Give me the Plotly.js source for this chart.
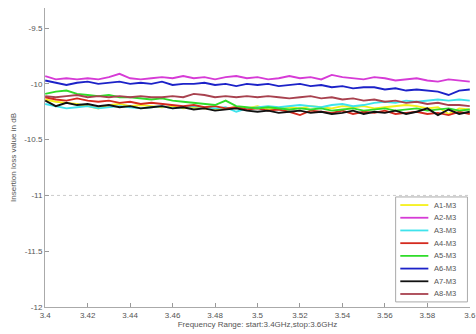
<!DOCTYPE html>
<html><head><meta charset="utf-8">
<script src="https://cdn.plot.ly/plotly-3.0.1.min.js"></script>
<style>html,body{margin:0;padding:0;background:#fff}#chart{width:476px;height:334px}</style>
</head><body><div id="chart"></div>
<script>
const freq = [3.4,3.405,3.41,3.415,3.42,3.425,3.43,3.435,3.44,3.445,3.45,3.455,3.46,3.465,3.47,3.475,3.48,3.485,3.49,3.495,3.5,3.505,3.51,3.515,3.52,3.525,3.53,3.535,3.54,3.545,3.55,3.555,3.56,3.565,3.57,3.575,3.58,3.585,3.59,3.595,3.6];
const seriesNames = ["A1-M3","A2-M3","A3-M3","A4-M3","A5-M3","A6-M3","A7-M3","A8-M3"];
const seriesColors = ["#f5f01a","#d63bd6","#3fe3ec","#d42a1e","#2fdc2a","#1c22c8","#111111","#a8424f"];
const A1 = [-10.14,-10.16,-10.17,-10.18,-10.2,-10.22,-10.19,-10.18,-10.2,-10.19,-10.2,-10.21,-10.2,-10.22,-10.21,-10.22,-10.23,-10.22,-10.21,-10.22,-10.2,-10.23,-10.22,-10.21,-10.22,-10.2,-10.21,-10.22,-10.2,-10.21,-10.2,-10.22,-10.21,-10.2,-10.19,-10.2,-10.22,-10.21,-10.27,-10.22,-10.23];
const A2 = [-9.93,-9.96,-9.95,-9.96,-9.95,-9.96,-9.94,-9.91,-9.95,-9.96,-9.95,-9.94,-9.95,-9.93,-9.95,-9.94,-9.96,-9.94,-9.93,-9.95,-9.94,-9.96,-9.95,-9.93,-9.95,-9.94,-9.96,-9.92,-9.94,-9.95,-9.96,-9.94,-9.95,-9.97,-9.96,-9.95,-9.97,-9.98,-9.96,-9.97,-9.98];
const A3 = [-10.18,-10.2,-10.22,-10.21,-10.2,-10.22,-10.21,-10.2,-10.21,-10.22,-10.21,-10.2,-10.22,-10.21,-10.2,-10.21,-10.22,-10.21,-10.25,-10.22,-10.21,-10.2,-10.21,-10.2,-10.19,-10.2,-10.21,-10.19,-10.18,-10.2,-10.19,-10.17,-10.16,-10.17,-10.15,-10.16,-10.15,-10.14,-10.15,-10.14,-10.15];
const A4 = [-10.12,-10.14,-10.15,-10.13,-10.15,-10.16,-10.15,-10.17,-10.16,-10.18,-10.17,-10.18,-10.19,-10.2,-10.19,-10.21,-10.2,-10.22,-10.21,-10.23,-10.22,-10.24,-10.23,-10.25,-10.28,-10.24,-10.25,-10.26,-10.24,-10.27,-10.25,-10.26,-10.24,-10.27,-10.26,-10.25,-10.27,-10.26,-10.28,-10.25,-10.27];
const A5 = [-10.09,-10.07,-10.06,-10.09,-10.1,-10.11,-10.1,-10.12,-10.12,-10.13,-10.14,-10.13,-10.15,-10.16,-10.17,-10.18,-10.19,-10.15,-10.2,-10.21,-10.22,-10.21,-10.22,-10.23,-10.22,-10.23,-10.22,-10.24,-10.23,-10.22,-10.24,-10.23,-10.22,-10.24,-10.23,-10.22,-10.24,-10.23,-10.22,-10.24,-10.23];
const A6 = [-9.97,-9.99,-10.01,-9.99,-9.98,-10.0,-9.99,-9.98,-10.0,-9.99,-10.0,-9.98,-10.01,-10.0,-10.0,-9.99,-10.01,-10.0,-10.02,-10.0,-10.01,-10.0,-10.02,-10.01,-10.0,-10.02,-10.01,-10.03,-10.02,-10.04,-10.03,-10.03,-10.05,-10.04,-10.06,-10.05,-10.06,-10.07,-10.1,-10.06,-10.05];
const A7 = [-10.15,-10.2,-10.17,-10.19,-10.18,-10.2,-10.19,-10.21,-10.2,-10.22,-10.21,-10.2,-10.22,-10.21,-10.23,-10.22,-10.24,-10.23,-10.22,-10.24,-10.25,-10.24,-10.26,-10.25,-10.24,-10.26,-10.25,-10.27,-10.26,-10.24,-10.27,-10.25,-10.26,-10.24,-10.27,-10.25,-10.22,-10.28,-10.23,-10.27,-10.25];
const A8 = [-10.11,-10.12,-10.11,-10.1,-10.12,-10.11,-10.12,-10.11,-10.12,-10.11,-10.12,-10.12,-10.11,-10.12,-10.09,-10.1,-10.12,-10.11,-10.12,-10.11,-10.12,-10.11,-10.12,-10.13,-10.12,-10.11,-10.13,-10.12,-10.14,-10.13,-10.15,-10.14,-10.16,-10.15,-10.17,-10.16,-10.18,-10.17,-10.19,-10.19,-10.2];
const xTicks = [3.4,3.42,3.44,3.46,3.48,3.5,3.52,3.54,3.56,3.58,3.6];
const xTickText = ["3.4","3.42","3.44","3.46","3.48","3.5","3.52","3.54","3.56","3.58","3.6"];
const yTicks = [-12,-11.5,-11,-10.5,-10,-9.5];
const yTickText = ["-12","-11.5","-11","-10.5","-10","-9.5"];

const allSeries = [A1,A2,A3,A4,A5,A6,A7,A8];
const traces = allSeries.map((ys,i)=>({
  x: freq, y: ys, type:'scatter', mode:'lines', name: seriesNames[i], showlegend:false,
  line:{color: seriesColors[i], width:1.9, shape:'linear'}
}));

// custom compact legend (MATLAB-style)
const legTop = 0.341, legStep = 0.0425;
const shapes = [
  {type:'line', xref:'paper', x0:0, x1:1, yref:'y', y0:-11, y1:-11, line:{color:'#ccc', width:1, dash:'dot'}, layer:'below'},
  {type:'rect', xref:'paper', yref:'paper', x0:0.825, x1:0.994, y0:0.017, y1:0.368, fillcolor:'#fff', line:{color:'#aaa', width:1}}
];
const annotations = [];
seriesNames.forEach((nm,i)=>{
  const yy = legTop - i*legStep;
  shapes.push({type:'line', xref:'paper', yref:'paper', x0:0.836, x1:0.902, y0:yy, y1:yy, line:{color:seriesColors[i], width:1.8}});
  annotations.push({xref:'paper', yref:'paper', x:0.91, y:yy, xanchor:'left', yanchor:'middle', text:nm, showarrow:false, font:{size:7.5, color:'#555'}});
});

const layout = {
  width:476, height:334,
  margin:{l:45, r:6, t:8, b:27},
  paper_bgcolor:'#fff', plot_bgcolor:'#fff',
  font:{family:'Arial, Liberation Sans, sans-serif', size:8, color:'#555'},
  showlegend:false,
  xaxis:{range:[3.3999,3.6001], tickvals:xTicks, ticktext:xTickText, ticks:'inside', ticklen:4, tickcolor:'#999',
    showline:true, linecolor:'#aaa', linewidth:1, showgrid:false, zeroline:false, mirror:false,
    tickfont:{size:8, color:'#555'}, automargin:false,
    title:{text:'Frequency Range: start:3.4GHz,stop:3.6GHz', font:{size:8, color:'#555'}, standoff:2}},
  yaxis:{range:[-12,-9.32], tickvals:yTicks, ticktext:yTickText, ticks:'inside', ticklen:4, tickcolor:'#999',
    showline:true, linecolor:'#aaa', linewidth:1, showgrid:false, zeroline:false,
    tickfont:{size:8, color:'#555'},
    title:{text:'Insertion loss value in dB', font:{size:8, color:'#555'}, standoff:6}},
  shapes: shapes,
  annotations: annotations
};
Plotly.newPlot('chart', traces, layout, {displayModeBar:false, staticPlot:true});
</script></body></html>
